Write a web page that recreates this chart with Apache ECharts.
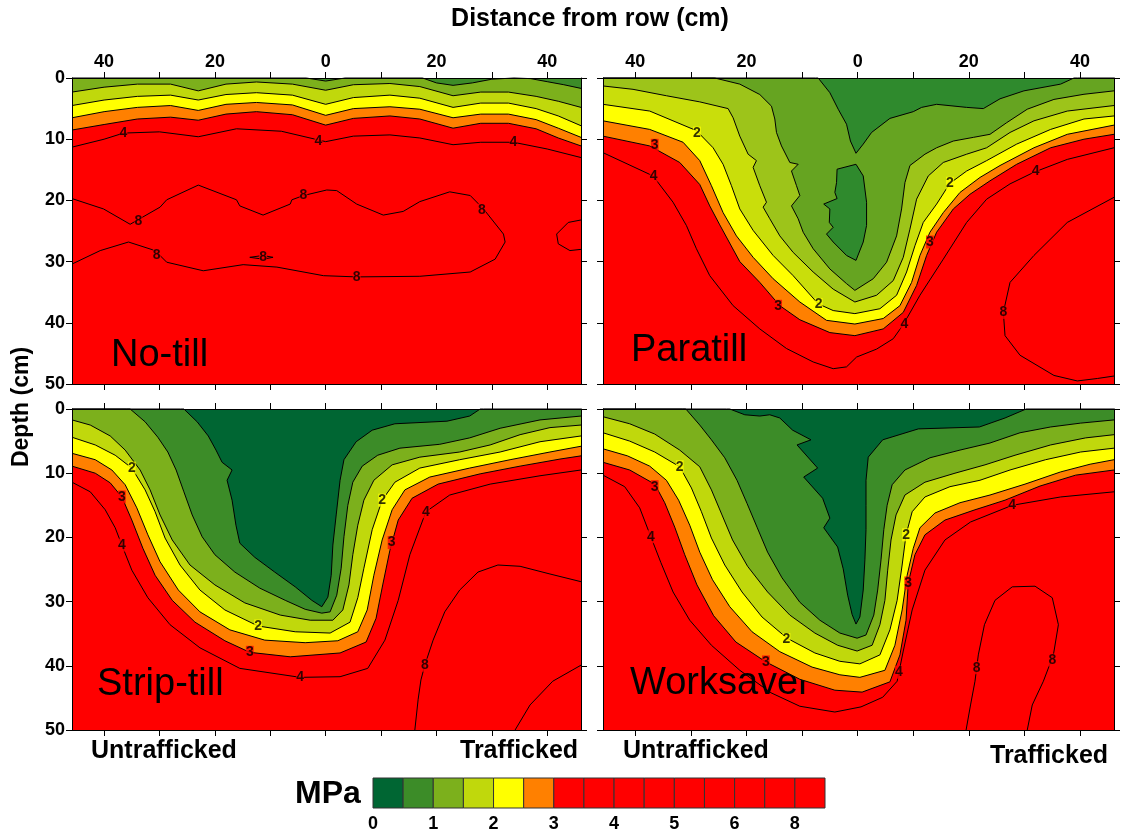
<!DOCTYPE html>
<html><head><meta charset="utf-8">
<script src="https://cdn.jsdelivr.net/npm/echarts@6/dist/echarts.min.js"></script>
<style>html,body{margin:0;padding:0;background:#fff}#c{width:1122px;height:836px}</style>
</head><body><div id="c"></div>
<script>
// ---------- axes ----------
const xTickVals = [-40,-30,-20,-10,0,10,20,30,40];
const xLabelVals = [-40,-20,0,20,40];
const depthMin = 0, depthMax = 50, depthStep = 10;
const xMin = -45.8, xMax = 46.1;

// ---------- No-till (x cm, depth cm) ----------
const noTill_1 = [[-45.8,-0.5],[-3.5,-0.5],[0,0.5],[3.5,-0.5],[17.5,-0.5],[20,0.8],[23,1.2],[26.5,0.8],[30,0.2],[34,-0.3],[37,0.1],[40,0.6],[43,1.1],[46.1,1.7]];
const noTill_15 = [[-45.8,2.3],[-40,1.5],[-34,1.0],[-28,1.0],[-23,2.1],[-18,1.0],[-12.5,0.65],[-6,1.0],[0,2.0],[5,1.1],[11.6,0.9],[17,1.4],[23,2.9],[28,2.3],[33,2.3],[38,3.0],[42,3.8],[46.1,4.8]];
const noTill_2 = [[-45.8,4.5],[-40,3.6],[-34,3.0],[-28,2.8],[-23,3.6],[-18,2.7],[-12.5,2.4],[-6,2.8],[0,4.3],[5,3.2],[11.6,2.8],[17,3.3],[23,4.8],[28,4.1],[33,4.1],[38,5.0],[42,6.2],[46.1,7.8]];
const noTill_25 = [[-45.8,6.5],[-40,5.5],[-34,4.8],[-28,4.5],[-23,5.3],[-18,4.3],[-12.5,4.0],[-6,4.4],[0,6.1],[5,5.0],[11.6,4.7],[17,5.1],[23,6.5],[28,5.9],[33,5.9],[38,6.8],[42,8.2],[46.1,9.7]];
const noTill_3 = [[-45.8,8.5],[-40,7.6],[-34,6.7],[-28,6.4],[-23,6.9],[-18,5.9],[-12.5,5.5],[-6,6.0],[0,7.7],[5,6.6],[11.6,6.2],[17,6.7],[23,8.2],[28,7.4],[33,7.4],[38,8.3],[42,9.8],[46.1,11.1]];
const noTill_4 = [[-45.8,11.3],[-40,10.0],[-36.5,9.0],[-30,8.8],[-23,9.6],[-16.1,8.3],[-8,8.7],[0,10.4],[5,9.5],[11.6,9.3],[17,9.8],[23,10.9],[28,10.5],[33.9,10.5],[40,11.6],[46.1,13.0]];
const noTill_8 = [[-45.8,19.7],[-40.1,21.4],[-35.3,23.9],[-29.9,21.1],[-28.7,19.9],[-23.0,17.5],[-16.1,19.9],[-15.5,20.9],[-11.3,22.4],[-6.4,20.6],[-6.1,19.9],[-4.0,19.2],[0.2,18.3],[2.0,18.4],[5.6,20.6],[10.4,22.4],[14.0,21.8],[17.0,20.2],[22.4,18.6],[26.1,19.2],[28.5,21.4],[32.1,25.5],[32.4,26.8],[30.6,29.6],[26.1,31.7],[17.0,32.4],[5.6,32.5],[-0.4,32.3],[-8.8,30.9],[-14.9,30.5],[-22.1,31.5],[-28.7,30.1],[-30.8,28.2],[-35.6,26.8],[-40.7,28.2],[-45.8,30.4]];
const noTill_8b = [[-13.7,29.3],[-11.3,29.0],[-9.5,29.3],[-11.3,29.6],[-13.7,29.3]];
const noTill_8c = [[46.1,23.2],[43.8,23.6],[41.7,25.5],[42.0,27.1],[44.1,28.2],[46.1,28.0]];
const noTillLabels = [[-36.5,9.0,'4'],[-1.3,10.3,'4'],[33.9,10.5,'4'],[-33.8,23.4,'8'],[-4.0,19.2,'8'],[28.2,21.6,'8'],[5.6,32.5,'8'],[-30.5,29.0,'8'],[-11.3,29.3,'8']];

// ---------- Paratill ----------
const paratill_05 = [[-45.8,-0.5],[-7.6,-0.5],[-7.1,0],[-5.0,2.4],[-3.5,5.1],[-2.0,7.55],[-1.3,10.3],[-0.3,12.3],[1.0,10.8],[2.5,8.9],[5.8,6.6],[10.0,5.5],[11.5,4.8],[14.2,4.3],[19.6,4.8],[22.6,5.0],[25.6,3.4],[29.9,2.1],[36.5,1.0],[38.9,0],[39.5,-0.5],[46.1,-0.5]];
const paratillIsland = [[-3.7,14.9],[-0.3,14.1],[1.0,16.0],[1.6,20.3],[1.6,24.1],[1.0,26.8],[-0.3,29.8],[-2.0,29.0],[-4.4,26.8],[-5.6,25.5],[-4.4,24.4],[-5.1,23.6],[-5.0,21.4],[-6.1,20.6],[-3.7,19.7],[-4.1,18.7],[-3.8,17.1]];
const paratill_1 = [[-45.8,-0.5],[-26.2,-0.5],[-25.7,0],[-21.2,1.0],[-17.6,2.7],[-15.5,4.6],[-14.9,6.7],[-14.6,8.9],[-13.7,11.1],[-12.2,13.8],[-10.7,14.1],[-11.9,15.2],[-11.0,17.6],[-10.4,19.2],[-11.9,20.9],[-10.7,23.0],[-9.8,25.2],[-8.0,27.9],[-5.0,31.2],[-2.0,33.6],[-0.5,34.7],[2.8,32.8],[5.2,30.1],[7.0,25.8],[7.9,21.4],[8.5,17.1],[9.4,14.3],[12.1,12.45],[14.2,11.4],[17.2,10.3],[20.8,9.7],[23.8,9.2],[26.8,7.3],[30.5,5.1],[35.3,3.5],[40.7,2.66],[46.1,2.1]];
const paratill_15 = [[-45.8,1.3],[-40.4,1.85],[-34.4,2.9],[-28.4,3.9],[-23.3,5.0],[-22.4,6.5],[-21.2,9.5],[-19.7,12.45],[-18.2,13.5],[-18.8,14.6],[-17.6,17.6],[-16.4,20.3],[-17.0,21.1],[-15.8,23.0],[-14.0,25.8],[-11.6,28.5],[-8.0,31.7],[-4.4,34.5],[-0.5,36.6],[3.4,35.5],[6.4,33.1],[8.2,29.3],[9.4,24.7],[10.6,19.8],[12.7,16.0],[15.4,13.8],[19.6,12.45],[23.2,11.4],[27.4,8.9],[31.7,7.0],[37.7,5.4],[46.1,4.5]];
const paratill_2 = [[-45.8,4.3],[-37.4,5.4],[-29.0,8.6],[-26.0,11.4],[-24.2,14.1],[-22.7,17.6],[-21.2,21.4],[-18.8,24.9],[-15.2,29.0],[-11.6,32.3],[-7.1,36.9],[-4.4,38.0],[-0.5,38.5],[4.0,37.7],[7.0,35.5],[8.8,31.7],[10.3,27.4],[11.8,23.6],[14.2,20.6],[16.6,17.2],[19.6,15.2],[23.2,13.5],[28.6,10.8],[34.7,8.4],[40.7,6.7],[46.1,6.2]];
const paratill_25 = [[-45.8,7.0],[-37.4,8.4],[-31.4,10.5],[-28.4,13.5],[-26.3,17.6],[-24.2,22.0],[-21.8,25.8],[-18.8,29.3],[-15.2,32.8],[-10.4,36.6],[-5.6,39.6],[-0.5,40.2],[4.6,39.3],[7.6,37.2],[9.7,33.4],[11.2,29.0],[13.0,25.2],[15.4,22.0],[18.4,18.7],[22.0,16.25],[25.6,14.3],[31.7,11.4],[37.7,9.2],[46.1,7.7]];
const paratill_3 = [[-45.8,9.5],[-37.4,11.1],[-32.0,13.8],[-28.4,17.4],[-26.6,20.9],[-24.8,24.0],[-21.2,30.0],[-17.6,33.4],[-14.0,37.2],[-10.4,39.5],[-5.0,41.6],[-0.5,42.1],[4.6,41.0],[8.2,38.3],[10.6,33.9],[12.4,29.0],[14.2,25.2],[17.2,21.4],[20.2,19.0],[23.8,16.8],[28.6,14.1],[34.7,11.4],[40.7,10.0],[46.1,9.2]];
const paratill_4 = [[-45.8,12.2],[-36.8,16.0],[-33.2,20.3],[-30.8,24.1],[-29.0,27.9],[-26.6,32.3],[-22.4,37.2],[-17.6,41.0],[-12.8,44.2],[-8.0,46.4],[-4.4,47.5],[-2.0,47.2],[-0.2,45.6],[3.4,44.3],[6.4,42.6],[8.2,40.3],[11.2,35.5],[15.4,29.6],[19.6,23.6],[23.2,19.8],[27.4,17.3],[31.7,15.4],[37.7,13.3],[46.1,11.4]];
const paratill_8 = [[46.1,19.5],[37.7,23.6],[31.7,29.0],[27.4,33.4],[26.2,38.3],[26.5,42.1],[29.2,45.3],[35.3,48.6],[39.5,49.5],[43.1,49.1],[46.1,48.7]];
const paratillLabels = [[-28.9,9.0,'2'],[-7.0,37.0,'2'],[16.6,17.2,'2'],[-36.5,11.0,'3'],[-14.3,37.3,'3'],[13.0,26.8,'3'],[-36.7,16.0,'4'],[8.4,40.3,'4'],[32.0,15.3,'4'],[26.2,38.3,'8']];

// ---------- Strip-till ----------
const stripTill_05 = [[-45.8,-0.5],[-26.2,-0.5],[-25.6,0],[-23.2,2.0],[-21.2,4.2],[-19.8,6.4],[-18.7,8.3],[-16.9,9.5],[-17.8,11.1],[-16.9,14.2],[-16.2,18.1],[-15.5,20.9],[-12.8,23.1],[-9.2,25.4],[-5.5,27.7],[-2.5,29.8],[-0.7,30.8],[0.4,29.3],[1.0,25.9],[1.3,21.2],[1.9,16.5],[2.6,11.1],[3.3,7.9],[5.5,5.1],[8.4,3.3],[12.5,2.3],[21.9,1.9],[26.0,1.1],[27.9,0],[28.5,-0.5],[46.1,-0.5]];
const stripTill_1 = [[-45.8,-0.5],[-35.9,-0.5],[-35.3,0],[-32.6,2.0],[-30.3,4.4],[-28.5,6.7],[-27.0,9.5],[-25.6,12.9],[-24.1,16.5],[-22.3,19.9],[-20.0,22.7],[-16.4,25.4],[-11.9,27.9],[-7.3,29.8],[-3.7,31.2],[-0.7,31.8],[0.8,31.6],[2.0,29.0],[2.8,24.8],[3.3,19.9],[4.0,15.0],[4.9,11.4],[6.6,8.9],[9.4,7.2],[13.4,6.1],[20.6,5.5],[26.0,4.5],[31.5,3.0],[38.7,1.7],[46.1,1.1]];
const stripTill_15 = [[-45.8,1.7],[-42.5,2.5],[-38.9,4.2],[-36.2,6.4],[-33.5,9.5],[-31.7,12.6],[-29.9,16.5],[-27.7,20.4],[-24.5,24.3],[-20.0,27.4],[-14.6,30.2],[-8.2,32.1],[-2.8,32.9],[1.3,32.9],[3.1,31.3],[4.2,27.4],[4.9,22.7],[5.8,18.1],[6.9,14.2],[8.7,11.1],[12.0,8.7],[17.0,7.5],[24.2,6.7],[29.7,5.6],[35.1,4.0],[40.5,2.9],[46.1,2.5]];
const stripTill_2 = [[-45.8,4.4],[-41.6,5.6],[-38.0,7.2],[-35.0,9.2],[-32.6,12.6],[-30.8,16.0],[-29.0,20.1],[-26.3,24.3],[-22.7,28.2],[-18.2,31.3],[-12.2,33.8],[-5.5,34.7],[0.8,34.9],[4.4,33.2],[5.8,29.4],[6.9,24.8],[8.4,18.8],[10.2,14.2],[12.5,11.4],[17.0,9.2],[24.2,7.9],[31.5,6.7],[38.7,5.1],[46.1,4.2]];
const stripTill_25 = [[-45.8,6.9],[-41.6,7.9],[-38.6,9.5],[-36.2,11.8],[-34.1,15.4],[-32.1,19.6],[-29.9,23.8],[-26.6,28.2],[-22.7,31.6],[-17.3,34.4],[-11.0,36.0],[-3.7,36.4],[2.2,36.1],[5.8,34.7],[7.5,31.3],[8.7,25.9],[10.2,20.4],[12.0,15.7],[14.3,12.6],[18.8,10.6],[26.0,9.2],[33.3,7.9],[40.5,6.7],[46.1,5.8]];
const stripTill_3 = [[-45.8,8.9],[-41.6,10.0],[-38.9,11.5],[-36.8,13.7],[-35.0,17.3],[-33.0,21.7],[-30.8,25.9],[-27.7,29.8],[-23.6,33.2],[-18.2,36.1],[-13.7,37.9],[-6.4,38.6],[2.6,38.0],[7.3,36.3],[9.1,32.6],[10.3,27.4],[11.6,22.0],[13.1,17.3],[15.6,13.9],[20.3,11.7],[27.9,10.1],[35.1,8.9],[42.3,7.8],[46.1,7.3]];
const stripTill_4 = [[-45.8,11.4],[-42.5,12.9],[-39.8,15.7],[-38.0,18.5],[-36.8,21.2],[-35.0,25.1],[-32.1,29.4],[-28.1,33.6],[-22.7,37.2],[-15.5,40.4],[-4.6,41.8],[2.6,41.7],[7.6,40.4],[10.7,36.0],[13.1,29.8],[15.2,22.7],[18.1,16.0],[22.4,13.4],[29.7,11.7],[38.7,10.4],[46.1,9.5]];
const stripTill_8a = [[16.1,50],[16.7,45.2],[17.2,42.2],[17.9,39.9],[19.4,36.0],[21.5,31.6],[24.2,28.2],[27.5,25.4],[31.1,24.3],[35.1,24.5],[40.5,25.7],[46.1,26.9]];
const stripTill_8b = [[34.2,50],[36.9,46.1],[41.0,42.4],[46.1,39.9]];
const stripTillLabels = [[-35.0,9.2,'2'],[-12.2,33.8,'2'],[10.2,14.2,'2'],[-36.8,13.7,'3'],[-13.7,37.9,'3'],[11.9,20.8,'3'],[-36.8,21.2,'4'],[-4.6,41.8,'4'],[18.1,16.0,'4'],[17.9,39.9,'8']];

// ---------- Worksaver ----------
const worksaver_05 = [[-45.9,-0.5],[-23.6,-0.5],[-23.0,0],[-20.3,0.9],[-17.6,1.1],[-15.8,0.9],[-14.0,1.4],[-11.7,3.3],[-8.4,4.8],[-10.9,5.6],[-7.2,9.2],[-9.7,10.6],[-6.3,13.9],[-5.0,17.0],[-6.1,18.5],[-3.6,21.5],[-2.6,24.9],[-1.8,29.0],[-1.0,32.0],[-0.3,33.5],[0.4,32.4],[1.0,28.2],[1.3,23.5],[1.5,18.8],[1.5,15.0],[1.5,11.1],[1.9,7.5],[4.5,4.8],[10.9,3.1],[21.9,2.8],[26.5,1.4],[30.3,0],[31.0,-0.5],[46.2,-0.5]];
const worksaver_1 = [[-45.9,-0.5],[-31.5,-0.5],[-30.9,0],[-28.4,2.5],[-26.3,4.8],[-23.9,7.6],[-21.7,11.1],[-19.9,14.7],[-18.1,18.4],[-16.2,22.3],[-13.6,26.3],[-10.4,30.1],[-6.8,32.9],[-3.2,34.9],[-0.1,35.7],[1.5,35.2],[2.9,32.1],[3.6,28.2],[4.2,23.5],[4.7,18.8],[5.3,15.0],[6.2,11.8],[8.5,9.5],[13.0,7.6],[18.4,6.4],[23.8,5.3],[29.2,3.7],[34.7,2.8],[40.1,2.2],[46.2,1.7]];
const worksaver_15 = [[-45.9,1.2],[-41.0,2.3],[-36.5,3.9],[-32.0,6.4],[-28.4,9.0],[-26.3,12.6],[-24.4,16.5],[-22.5,20.4],[-19.8,24.5],[-16.2,28.5],[-12.2,32.1],[-7.7,34.9],[-3.6,36.8],[-0.1,37.7],[2.6,36.8],[4.0,33.6],[4.9,29.8],[5.4,25.1],[6.0,20.4],[6.9,16.5],[8.5,13.4],[12.1,11.4],[17.5,10.0],[22.9,8.7],[28.3,7.2],[34.7,5.6],[41.0,4.5],[46.2,4.0]];
const worksaver_2 = [[-45.9,3.7],[-41.0,5.0],[-36.5,6.7],[-32.0,9.0],[-29.9,12.3],[-28.1,16.0],[-26.3,20.1],[-23.9,24.3],[-20.8,28.5],[-17.2,32.4],[-12.7,35.7],[-7.7,38.0],[-3.2,39.3],[0.4,39.7],[4.0,38.3],[5.8,34.4],[7.1,29.8],[8.0,24.3],[8.7,19.6],[9.8,16.0],[12.1,13.7],[16.6,12.1],[22.0,11.1],[27.4,9.5],[33.8,7.9],[40.1,6.7],[46.2,6.1]];
const worksaver_25 = [[-45.9,6.2],[-41.4,7.3],[-37.4,8.9],[-34.4,11.1],[-32.2,14.2],[-30.2,18.1],[-28.4,22.3],[-26.1,26.6],[-23.0,30.8],[-19.0,34.7],[-14.0,37.8],[-8.2,40.2],[-3.2,41.4],[0.4,41.8],[4.9,40.7],[6.7,36.8],[8.0,31.3],[8.9,25.9],[10.0,21.7],[11.2,18.5],[13.9,16.2],[18.4,14.6],[23.8,13.4],[30.1,11.7],[36.5,9.8],[41.8,8.6],[46.2,7.9]];
const worksaver_3 = [[-45.9,8.3],[-41.0,9.5],[-36.5,11.7],[-34.7,14.6],[-32.9,18.4],[-31.1,22.7],[-28.9,27.4],[-25.9,32.2],[-21.9,36.3],[-16.5,39.4],[-10.4,42.1],[-4.1,43.8],[0.8,44.1],[5.8,42.5],[7.6,38.3],[8.7,32.9],[9.1,27.1],[10.3,22.7],[12.1,19.6],[15.7,17.3],[21.1,15.7],[26.5,14.2],[32.8,12.0],[39.2,10.3],[46.2,9.5]];
const worksaver_4 = [[-45.9,10.3],[-41.9,12.1],[-39.2,15.4],[-37.2,19.9],[-35.4,23.9],[-33.2,28.5],[-30.2,32.9],[-26.3,36.8],[-21.2,40.7],[-15.6,44.2],[-10.4,46.3],[-4.1,47.2],[0.6,46.4],[4.5,44.9],[7.1,42.4],[8.2,37.7],[9.8,31.3],[12.1,25.1],[15.7,20.4],[20.3,17.6],[27.8,15.0],[36.5,13.7],[46.2,12.9]];
const worksaver_8 = [[19.5,50],[20.3,46.1],[21.1,42.4],[21.7,38.3],[22.8,33.6],[24.7,29.8],[27.8,27.7],[31.9,27.6],[35.0,29.4],[36.1,33.6],[35.2,38.3],[33.4,42.4],[31.4,46.1],[30.5,50]];
const worksaverLabels = [[-32.0,9.0,'2'],[-12.8,35.9,'2'],[8.7,19.6,'2'],[-36.5,12.1,'3'],[-16.5,39.4,'3'],[9.1,27.1,'3'],[-37.2,19.9,'4'],[7.4,41.0,'4'],[27.8,15.0,'4'],[21.4,40.3,'8'],[35.0,39.1,'8']];

// ---------- colour bar ----------
const cbColors = ['#006633','#3c8c28','#7cb01c','#c0d80c','#ffff00','#ff8000','#ff0000','#ff0000','#ff0000','#ff0000','#ff0000','#ff0000','#ff0000','#ff0000','#ff0000'];
const cbTickPos = [0,2,4,6,8,10,12,14];
const cbTickText = ['0','1','2','3','4','5','6','8'];

const panelNames = ['No-till','Paratill','Strip-till','Worksaver'];

// ---------- styles ----------
const FONT = '"Liberation Sans", Arial, Helvetica, sans-serif';
const stdPal = {3:'#ff8000',2.5:'#ffff00',2:'#c0d80c',1.5:'#7cb01c',1:'#3c8c28',0.5:'#006633'};
const paraPal = {3:'#ff8000',2.5:'#ffff00',2:'#c9de0b',1.5:'#9dc41a',1:'#66a421',0.5:'#2f8a2d'};
const labelBg = {'2':'#ffff00','3':'#ff0000','4':'#ff0000','8':'#ff0000'};

const panels = [
  {fills:[[noTill_3,3],[noTill_25,2.5],[noTill_2,2],[noTill_15,1.5],[noTill_1,1]], islands:[], lines:[noTill_4,noTill_8,noTill_8b,noTill_8c], labels:noTillLabels, pal:stdPal},
  {fills:[[paratill_3,3],[paratill_25,2.5],[paratill_2,2],[paratill_15,1.5],[paratill_1,1],[paratill_05,0.5]], islands:[[paratillIsland,0.5]], lines:[paratill_4,paratill_8], labels:paratillLabels, pal:paraPal},
  {fills:[[stripTill_3,3],[stripTill_25,2.5],[stripTill_2,2],[stripTill_15,1.5],[stripTill_1,1],[stripTill_05,0.5]], islands:[], lines:[stripTill_4,stripTill_8a,stripTill_8b], labels:stripTillLabels, pal:stdPal},
  {fills:[[worksaver_3,3],[worksaver_25,2.5],[worksaver_2,2],[worksaver_15,1.5],[worksaver_1,1],[worksaver_05,0.5]], islands:[], lines:[worksaver_4,worksaver_8], labels:worksaverLabels, pal:stdPal}
];

const grids = [
  {left:72, top:78, width:509, height:306},
  {left:603, top:78, width:511, height:306},
  {left:72, top:409, width:509, height:321},
  {left:603, top:409, width:511, height:321},
  {left:373, top:778, width:452, height:30}
];

function xAxisCfg(gi, pos, showLabel){
  return {type:'value', gridIndex:gi, position:pos, min:xMin, max:xMax, z:10,
    axisLine:{show:true, onZero:false, lineStyle:{color:'#000', width:1}},
    axisTick:{show:true, customValues:xTickVals, length:6, lineStyle:{color:'#000', width:1}},
    axisLabel:{show:showLabel, customValues:xLabelVals, formatter:v=>String(Math.abs(v)), fontSize:18, fontWeight:'bold', color:'#000', margin:7, fontFamily:FONT},
    splitLine:{show:false}};
}
function yAxisCfg(gi, pos, showLabel){
  return {type:'value', gridIndex:gi, position:pos, inverse:true, min:depthMin, max:depthMax, interval:depthStep, z:10,
    axisLine:{show:true, onZero:false, lineStyle:{color:'#000', width:1}},
    axisTick:{show:true, length:6, lineStyle:{color:'#000', width:1}},
    axisLabel:{show:showLabel, fontSize:18, fontWeight:'bold', color:'#000', margin:7, fontFamily:FONT},
    splitLine:{show:false}};
}

const xAxes = [], yAxes = [], series = [];
panels.forEach((P, gi) => {
  const top = gi < 2;
  const left = gi % 2 === 0;
  xAxes.push(xAxisCfg(gi,'top',top), xAxisCfg(gi,'bottom',false));
  yAxes.push(yAxisCfg(gi,'left',left), yAxisCfg(gi,'right',false));
  series.push({
    type:'custom', xAxisIndex:gi*2, yAxisIndex:gi*2, silent:true, z:3,
    data:[[0,0]],
    renderItem:(params, api) => {
      const pt = p => api.coord([Math.min(xMax, Math.max(xMin, p[0])), Math.min(depthMax, Math.max(depthMin, p[1]))]);
      const ch = [];
      P.fills.forEach(([arr, lv]) => {
        const pts = arr.map(pt);
        const poly = pts.concat([pt([arr[arr.length-1][0], 0]), pt([arr[0][0], 0])]);
        ch.push({type:'polygon', shape:{points:poly}, style:{fill:P.pal[lv], stroke:null}});
        ch.push({type:'polyline', shape:{points:pts}, style:{stroke:'#000', lineWidth:1, fill:null}});
      });
      P.islands.forEach(([arr, lv]) => {
        ch.push({type:'polygon', shape:{points:arr.map(pt)}, style:{fill:P.pal[lv], stroke:'#000', lineWidth:1}});
      });
      P.lines.forEach(arr => {
        ch.push({type:'polyline', shape:{points:arr.map(pt)}, style:{stroke:'#000', lineWidth:1, fill:null}});
      });
      return {type:'group', children:ch};
    }
  });
  series.push({
    type:'scatter', xAxisIndex:gi*2, yAxisIndex:gi*2, silent:true, z:5,
    symbolSize:0, itemStyle:{color:'rgba(0,0,0,0)'},
    data:P.labels.map(l => ({value:[l[0], l[1]], name:l[2],
      label:{backgroundColor:labelBg[l[2]]}})),
    label:{show:true, position:'inside', formatter:'{b}', fontSize:14, fontWeight:'bold', color:'#000', fontFamily:FONT, padding:[0,0], lineHeight:13}
  });
});

// colour bar axes
xAxes.push({type:'value', gridIndex:4, position:'bottom', min:0, max:cbColors.length,
  axisLine:{show:false}, axisTick:{show:false}, splitLine:{show:false},
  axisLabel:{show:true, customValues:cbTickPos, formatter:v=>cbTickText[cbTickPos.indexOf(v)], fontSize:18, fontWeight:'bold', color:'#000', margin:7, fontFamily:FONT}});
yAxes.push({type:'value', gridIndex:4, min:0, max:1, show:false});
series.push({
  type:'custom', xAxisIndex:8, yAxisIndex:8, silent:true,
  data:cbColors.map((c,i)=>[i,0]),
  renderItem:(params, api) => {
    const i = api.value(0);
    const p0 = api.coord([i,1]), p1 = api.coord([i+1,0]);
    return {type:'rect', shape:{x:p0[0], y:p0[1], width:p1[0]-p0[0], height:p1[1]-p0[1]},
      style:{fill:cbColors[i], stroke:'#333', lineWidth:1}};
  }
});

const txt = (x, y, text, size, weight, align, extra) => Object.assign({type:'text', x, y,
  style:{text, font:`${weight} ${size}px ${FONT}`, fill:'#000', textAlign:align, textVerticalAlign:'middle'}}, extra||{});

const option = {
  animation:false,
  backgroundColor:'#fff',
  textStyle:{fontFamily:FONT},
  grid: grids.map((g,i) => Object.assign({show:i<4, backgroundColor:'#ff0000', borderWidth:0, containLabel:false, outerBoundsMode:'none'}, g)),
  xAxis:xAxes, yAxis:yAxes, series,
  graphic:[
    txt(590, 19, 'Distance from row (cm)', 25, 'bold', 'center'),
    txt(22, 407, 'Depth (cm)', 23, 'bold', 'center', {rotation:Math.PI/2}),
    txt(328, 794, 'MPa', 32, 'bold', 'center'),
    txt(91, 751, 'Untrafficked', 25, 'bold', 'left'),
    txt(460, 751, 'Trafficked', 25, 'bold', 'left'),
    txt(623, 751, 'Untrafficked', 25, 'bold', 'left'),
    txt(990, 756, 'Trafficked', 25, 'bold', 'left'),
    txt(111, 356, panelNames[0], 38, 'normal', 'left'),
    txt(631, 351, panelNames[1], 38, 'normal', 'left'),
    txt(97, 685, panelNames[2], 38, 'normal', 'left'),
    txt(630, 684, panelNames[3], 38, 'normal', 'left')
  ]
};

const chart = echarts.init(document.getElementById('c'), null, {renderer:'canvas'});
chart.setOption(option);
</script></body></html>
